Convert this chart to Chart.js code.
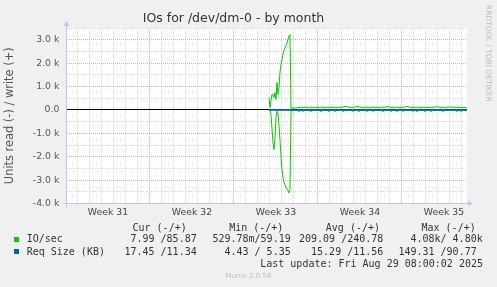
<!DOCTYPE html>
<html><head><meta charset="utf-8">
<script src="https://cdn.jsdelivr.net/npm/chart.js@4/dist/chart.umd.min.js"></script>
<style>
html,body{margin:0;padding:0;background:#f0f0f0;}
#wrap{position:relative;width:497px;height:287px;overflow:hidden;background:#f0f0f0;}
canvas{position:absolute;left:0;top:0;}
.t{position:absolute;font-family:'DejaVu Sans Mono',monospace;font-size:10px;line-height:12px;color:#333;white-space:pre;}
.sw{position:absolute;width:5px;height:5px;}
#rrd{position:absolute;left:484px;top:5px;writing-mode:vertical-rl;font-family:'DejaVu Sans',sans-serif;font-size:7.5px;line-height:8px;color:#bdbdbd;white-space:nowrap;}
#munin{position:absolute;left:0;width:497px;top:271px;text-align:center;font-family:'DejaVu Sans',sans-serif;font-size:7px;line-height:10px;color:#bdbdbd;}
</style></head><body>
<div id="wrap">
<canvas id="c" width="497" height="287"></canvas>
<div id="rrd">RRDTOOL / TOBI OETIKER</div>
<div id="munin">Munin 2.0.56</div>
</div>
<script>
// ---- data (x = hours since left edge of the month window) ----
const hours = [
  404,406,408,410,412,414,416,418,420,422,424,426,428,430,432,434,436,438,440,442,444,446,
  448,452,456,460,464,468,472,476,480,484,
  488,492,496,500,504,508,512,516,520,524,
  528,532,536,540,544,548,552,556,560,564,
  568,572,576,580,584,588,592,596,600,604,
  608,612,616,620,624,628,632,636,640,644,
  648,652,656,660,664,668,672,676,680,684,
  688,692,696,700,704,708,712,716,720,724,
  728,732,736,740,744,748,752,756,760,764,
  768,772,776,780,784,788,792,796,800
];
const ioWrite = [
  530,100,400,670,650,530,740,450,1170,670,960,1600,1950,2150,2380,2550,2650,2760,2850,3000,3150,3220,
  60,80,80,85,110,110,110,110,110,110,
  110,110,110,110,110,110,110,110,110,110,
  110,110,115,110,110,110,120,150,140,110,
  110,110,120,150,130,110,110,110,115,110,
  110,110,110,110,110,110,115,120,140,120,
  110,110,110,110,110,110,115,120,150,130,
  110,110,110,110,110,110,110,110,110,110,
  110,110,120,140,120,110,110,110,110,120,
  130,110,110,110,110,110,100,95,86
];
const ioRead = [
  20,30,200,800,1400,1700,1200,300,50,150,700,1300,2000,2550,2900,3100,3200,3300,3380,3450,3550,3400,
  40,15,14,16,70,15,68,15,14,15,
  72,15,16,14,15,70,15,15,14,70,
  15,15,68,15,14,15,72,15,15,16,
  15,70,15,14,70,15,16,15,70,15,
  14,68,15,15,14,15,72,15,15,14,
  70,15,16,70,15,14,68,15,15,15,
  16,70,15,72,15,14,15,70,15,15,
  70,15,15,14,15,16,72,15,15,14,
  15,15,16,70,15,68,15,14,8
];
const kbWrite = [
  14,12,13,15,12,11,13,12,14,13,12,11,12,13,12,11,12,13,12,11,12,13,
  12,11,11,12,11,11,10,11,12,11,
  11,11,12,11,10,11,11,12,11,11,
  11,12,11,11,10,11,12,11,11,11,
  11,11,12,11,11,10,11,11,12,11,
  11,12,11,11,11,10,11,12,11,11,
  11,11,11,12,11,11,10,11,11,12,
  11,11,12,11,11,11,10,11,11,11,
  12,11,11,11,10,11,11,12,11,11,
  11,11,12,11,11,10,11,11,11
];
const kbRead = [
  16,18,20,17,15,16,19,18,17,16,15,16,17,18,16,15,16,17,16,15,16,17,
  17,16,17,18,17,16,17,17,18,17,
  16,17,17,18,17,16,17,17,17,18,
  17,16,17,18,17,17,16,17,18,17,
  17,17,16,17,18,17,17,16,17,17,
  18,17,17,16,17,17,18,17,16,17,
  17,18,17,17,16,17,17,18,17,17,
  16,17,17,18,17,16,17,17,17,18,
  17,16,17,17,18,17,16,17,17,17,
  18,17,17,16,17,17,18,17,17
];
const weekLabels = ['Week 31','Week 32','Week 33','Week 34','Week 35'];
const weekLabelHours = [82,250,418,586,754];
const firstMidnightHour = 20.6;
const yTickValues = [-4000,-3500,-3000,-2500,-2000,-1500,-1000,-500,0,500,1000,1500,2000,2500,3000,3500];

const legendNames = ['IO/sec','Req Size (KB)'];
const legendColors = ['#00cc00','#0066b3'];
const legendHeaders = ['Cur (-/+)','Min (-/+)','Avg (-/+)','Max (-/+)'];
const curVals = ['7.99 /85.87','17.45 /11.34'];
const minVals = ['529.78m/59.19','4.43 / 5.35'];
const avgVals = ['209.09 /240.78','15.29 /11.56'];
const maxVals = ['4.08k/ 4.80k','149.31 /90.77'];
const lastUpdate = 'Last update: Fri Aug 29 08:00:02 2025';

// ---- legend (HTML text) ----
const wrap = document.getElementById('wrap');
function addText(txt, top, opts){
  const d = document.createElement('div'); d.className='t'; d.textContent=txt; d.style.top=top+'px';
  if (opts.right!==undefined) d.style.right=opts.right+'px'; else d.style.left=opts.left+'px';
  wrap.appendChild(d);
}
const colRights = [310.3, 213.7, 117, 21.3];
legendHeaders.forEach((h,i)=>addText(h, 221.7, {right: colRights[i]}));
const rowTops = [233.3, 245.7];
const valRights = [[300.3,206.3,113.7,14.3],[300.3,206.3,113.7,20.3]];
legendNames.forEach((n,r)=>{
  const sw=document.createElement('div'); sw.className='sw'; sw.style.left='14px'; sw.style.top=(rowTops[r]+3.7)+'px'; sw.style.background=legendColors[r]; wrap.appendChild(sw);
  addText(n, rowTops[r], {left:26.7});
  [curVals[r],minVals[r],avgVals[r],maxVals[r]].forEach((v,c)=>addText(v, rowTops[r], {right: valRights[r][c]}));
});
addText(lastUpdate, 258, {right:14});

// ---- chart ----
const MAJOR = 'rgba(225,110,110,0.6)';
const MINOR = 'rgba(175,175,175,0.5)';
const AXIS = '#c4c4ee';
function pts(vals, sign){ return hours.map((h,i)=>({x:h, y:sign*vals[i]})); }

const bgPlugin = {
  id:'bg',
  beforeDraw(chart){ const {ctx, chartArea:a}=chart; ctx.save(); ctx.fillStyle='#ffffff'; ctx.fillRect(a.left,a.top,a.right-a.left,a.bottom-a.top); ctx.restore(); }
};
const axisPlugin = {
  id:'axes',
  afterDraw(chart){
    const {ctx, chartArea:a}=chart; ctx.save();
    ctx.strokeStyle=AXIS; ctx.fillStyle=AXIS; ctx.lineWidth=1;
    const x=a.left-0.5, y=Math.round(a.bottom)-0.5;
    ctx.beginPath(); ctx.moveTo(x, a.bottom+4); ctx.lineTo(x, a.top-3); ctx.stroke();
    ctx.beginPath(); ctx.moveTo(x-3, a.top-2); ctx.lineTo(x+3, a.top-2); ctx.lineTo(x, a.top-7); ctx.closePath(); ctx.fill();
    ctx.beginPath(); ctx.moveTo(a.left-4, y); ctx.lineTo(a.right+2, y); ctx.stroke();
    ctx.beginPath(); ctx.moveTo(a.right+1, y-3); ctx.lineTo(a.right+1, y+3); ctx.lineTo(a.right+6, y); ctx.closePath(); ctx.fill();
    ctx.restore();
  }
};

Chart.defaults.font.family = "'DejaVu Sans', sans-serif";
new Chart(document.getElementById('c'), {
  type:'line',
  data:{ datasets:[
    {label:'Req Size read', data:pts(kbRead,-1), borderColor:'#0066b3', borderWidth:1, pointRadius:0, order:0},
    {label:'Req Size write', data:pts(kbWrite,1), borderColor:'#0066b3', borderWidth:1, pointRadius:0, order:0},
    {label:'IO/sec read', data:pts(ioRead,-1), borderColor:'#00cc00', borderWidth:1, pointRadius:0, order:1},
    {label:'IO/sec write', data:pts(ioWrite,1), borderColor:'#00cc00', borderWidth:1, pointRadius:0, order:1}
  ]},
  options:{
    responsive:false, animation:false, devicePixelRatio:1,
    layout:{padding:{left:0,right:30,top:0,bottom:0}},
    plugins:{
      legend:{display:false}, tooltip:{enabled:false},
      title:{display:true, text:'IOs for /dev/dm-0 - by month', color:'#333', font:{size:12.5, weight:'normal'}, padding:{top:11.5,bottom:1.5}}
    },
    scales:{
      x:{
        type:'linear', min:0, max:800,
        afterFit(s){ s.height = 83.5; },
        afterBuildTicks(scale){
          const t=[];
          for(let k=0; firstMidnightHour+24*k<=800; k++) t.push({value:firstMidnightHour+24*k, kind:(k%7===6)?'week':'day'});
          weekLabelHours.forEach((h,i)=>t.push({value:h, kind:'label', text:weekLabels[i]}));
          t.sort((a,b)=>a.value-b.value);
          scale.ticks=t;
        },
        ticks:{autoSkip:false, maxRotation:0, minRotation:0, padding:3.2, color:'#444', font:{size:9.3},
          callback(v,i,ticks){ return ticks[i].kind==='label' ? ticks[i].text : ''; }},
        grid:{drawTicks:false, lineWidth:1,
          color(c){ const k=c.tick&&c.tick.kind; return k==='label'?'rgba(0,0,0,0)':(k==='week'?MAJOR:MINOR); }},
        border:{display:false, dash:[1,1]}
      },
      y:{
        type:'linear', min:-4000, max:3500,
        afterFit(s){ s.width = 67; },
        afterBuildTicks(scale){ scale.ticks = yTickValues.map(v=>({value:v})); },
        ticks:{autoSkip:false, padding:7.7, color:'#555', font:{size:9.3},
          callback(v){ if(v%1000!==0) return ''; if(v===0) return '0.0'; return (v/1000).toFixed(1)+' k'; }},
        grid:{drawTicks:false, lineWidth:1,
          color(c){ const v=c.tick?c.tick.value:null; return v===0?'#000000':(v%1000===0?MAJOR:MINOR); }},
        border:{display:false, dash(c){ return (c.tick && c.tick.value===0) ? [] : [1,1]; }},
        title:{display:true, text:'Units read (-) / write (+)', color:'#555', font:{size:11.4}, padding:{top:3.2,bottom:0}}
      }
    }
  },
  plugins:[bgPlugin, axisPlugin]
});
</script>
</body></html>
